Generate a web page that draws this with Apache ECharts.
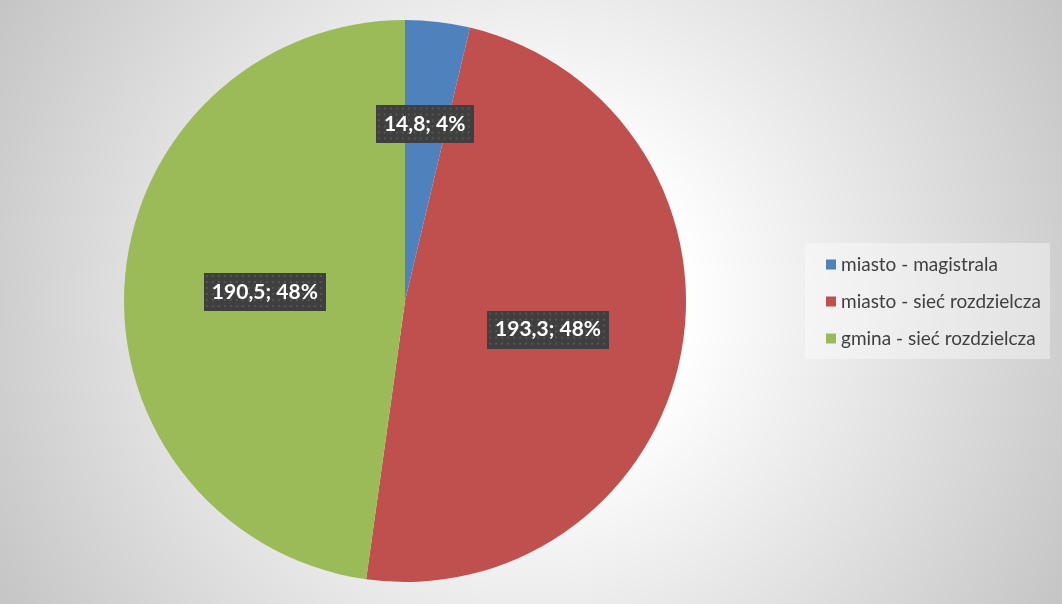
<!DOCTYPE html>
<html>
<head>
<meta charset="utf-8">
<script src="https://cdn.jsdelivr.net/npm/echarts@6/dist/echarts.min.js"></script>
<style>html,body{margin:0;padding:0;}#c{width:1062px;height:604px;}</style>
</head>
<body>
<div id="c"></div>
<script>
const categories = ['miasto - magistrala', 'miasto - sieć rozdzielcza', 'gmina - sieć rozdzielcza'];
const values = [14.8, 193.3, 190.5];
const percentLabels = ['4%', '48%', '48%'];
const colors = ['#4F81BD', '#C0504D', '#9BBB59'];

function dotPattern(w, h) {
  const c = document.createElement('canvas');
  c.width = w; c.height = h;
  const g = c.getContext('2d');
  g.fillStyle = '#3f3f3f';
  g.fillRect(0, 0, w, h);
  g.fillStyle = '#555555';
  for (let y = 2; y < h; y += 6) for (let x = 2; x < w; x += 6) g.fillRect(x, y, 2, 2);
  return c;
}
const bg1 = dotPattern(98, 38);
const bg2 = dotPattern(122, 38);

const chart = echarts.init(document.getElementById('c'));
chart.setOption({
  backgroundColor: {
    type: 'radial', x: 0.5, y: 0.5, r: 1.02,
    colorStops: [
      { offset: 0, color: '#ffffff' },
      { offset: 0.25, color: '#ffffff' },
      { offset: 1, color: '#c4c4c4' }
    ]
  },
  color: colors,
  legend: {
    orient: 'vertical',
    left: 805, top: 243,
    padding: [12, 9, 11, 21],
    backgroundColor: 'rgba(255,255,255,0.38)',
    itemWidth: 10, itemHeight: 10, itemGap: 18,
    icon: 'rect',
    textStyle: { fontFamily: 'Lato', fontSize: 19, color: '#404040' },
    data: categories
  },
  series: [{
    type: 'pie',
    center: [405, 301],
    radius: 281,
    startAngle: 90,
    clockwise: true,
    silent: true,
    avoidLabelOverlap: false,
    itemStyle: { borderWidth: 0 },
    label: {
      position: 'inside',
      fontFamily: 'Lato', fontWeight: 'bold', fontSize: 21, color: '#ffffff',
      lineHeight: 24,
      padding: [7, 8, 7, 8],
      shadowColor: 'rgba(0,0,0,0.5)', shadowBlur: 5, shadowOffsetX: 3, shadowOffsetY: 3,
      formatter: p => String(p.value).replace('.', ',') + '; ' + percentLabels[p.dataIndex]
    },
    labelLine: { show: false },
    labelLayout: function (params) {
      if (params.dataIndex === 0) return { dx: 3, dy: -34 };
      if (params.dataIndex === 1) return { dx: 2, dy: 2 };
      return { dx: 3, dy: 1 };
    },
    data: categories.map((n, i) => ({
      name: n, value: values[i],
      label: { backgroundColor: { image: i === 0 ? bg1 : bg2 } }
    }))
  }]
});
</script>
</body>
</html>
